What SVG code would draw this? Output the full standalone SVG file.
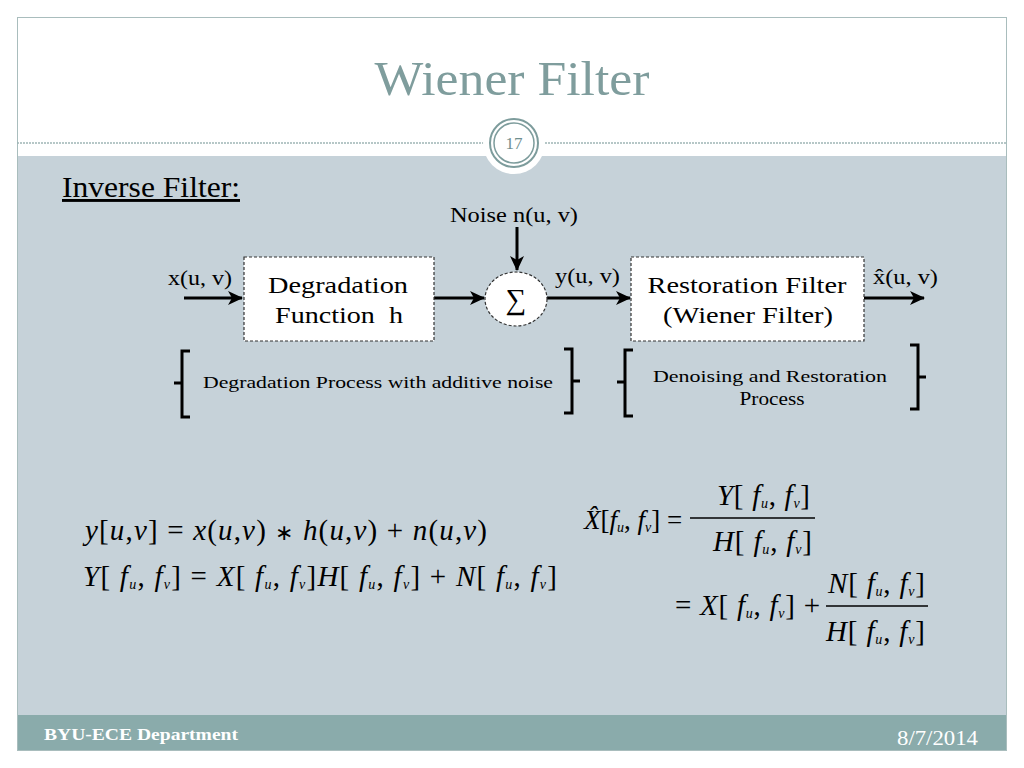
<svg xmlns="http://www.w3.org/2000/svg" width="1024" height="768" viewBox="0 0 1024 768">
<defs>
<style>
text{font-family:"Liberation Serif","Times New Roman",serif;fill:#000}
.lbl{font-size:23px}
.eq{font-size:29px}
.i{font-style:italic}
.s{font-size:14px;font-style:italic}
.box{fill:#fff;stroke:#333;stroke-width:1.2;stroke-dasharray:3 2}
.wire{stroke:#000;stroke-width:3;fill:none}
.br{stroke:#000;stroke-width:3;fill:none}
.frac{stroke:#000;stroke-width:1.4}
</style>
<marker id="ah" markerUnits="userSpaceOnUse" markerWidth="16" markerHeight="14" refX="14" refY="7" orient="auto">
<path d="M0,0 L15,7 L0,14 L4,7 z" fill="#000"/>
</marker>
</defs>
<rect x="0" y="0" width="1024" height="768" fill="#fff"/>
<g id="slide">
<rect x="17" y="156" width="990" height="559" fill="#c6d2d9"/>
<rect x="17" y="715" width="990" height="36" fill="#8aabab"/>
<rect x="17.5" y="17.5" width="989" height="733" fill="none" stroke="#a9bdbd" stroke-width="1"/>
<line x1="17" y1="143" x2="1007" y2="143" stroke="#9fb5b5" stroke-width="1.5" stroke-dasharray="2 1"/>
<circle cx="514" cy="143" r="31" fill="#fff"/>
<circle cx="514" cy="143" r="24" fill="#fff" stroke="#7d9c9c" stroke-width="2"/>
<circle cx="514" cy="143" r="20" fill="none" stroke="#7d9c9c" stroke-width="1.5"/>
<text x="514" y="149" text-anchor="middle" style="font-size:17px;fill:#6f8f8f">17</text>
<text x="512" y="95" text-anchor="middle" textLength="275" lengthAdjust="spacingAndGlyphs" style="font-size:48px;fill:#7f9d9d">Wiener Filter</text>
<text x="62" y="197" textLength="178" lengthAdjust="spacingAndGlyphs" style="font-size:29px;text-decoration:underline">Inverse Filter:</text>
<text x="44" y="740" textLength="194" lengthAdjust="spacingAndGlyphs" style="font-size:16px;font-weight:bold;fill:#fff">BYU-ECE Department</text>
<text x="978" y="745" text-anchor="end" textLength="81" lengthAdjust="spacingAndGlyphs" style="font-size:20px;fill:#fff">8/7/2014</text>
</g>
<g id="connectors">
<line class="wire" x1="184" y1="298" x2="242" y2="298" marker-end="url(#ah)"/>
<line class="wire" x1="434" y1="298" x2="484" y2="298" marker-end="url(#ah)"/>
<line class="wire" x1="517" y1="227" x2="517" y2="270" marker-end="url(#ah)"/>
<line class="wire" x1="547" y1="298" x2="630" y2="298" marker-end="url(#ah)"/>
<line class="wire" x1="864" y1="298" x2="924" y2="298" marker-end="url(#ah)"/>
</g>
<g id="degradation">
<rect class="box" x="244" y="257" width="190" height="84"/>
<text class="lbl" x="338" y="293" text-anchor="middle" textLength="140" lengthAdjust="spacingAndGlyphs">Degradation</text>
<text class="lbl" x="339" y="323" text-anchor="middle" textLength="128" lengthAdjust="spacingAndGlyphs">Function&#160; h</text>
</g>
<g id="sum">
<ellipse cx="516" cy="299" rx="31" ry="27" fill="#fff" stroke="#333" stroke-width="1.2" stroke-dasharray="3 2"/>
<text x="516" y="309" text-anchor="middle" style="font-size:29px">∑</text>
</g>
<g id="restoration">
<rect class="box" x="631" y="257" width="233" height="84"/>
<text class="lbl" x="747" y="293" text-anchor="middle" textLength="199" lengthAdjust="spacingAndGlyphs">Restoration Filter</text>
<text class="lbl" x="748" y="323" text-anchor="middle" textLength="170" lengthAdjust="spacingAndGlyphs">(Wiener Filter)</text>
</g>
<g id="labels">
<text class="lbl" x="168" y="285" textLength="64" lengthAdjust="spacingAndGlyphs" style="font-size:20px">x(u, v)</text>
<text class="lbl" x="450" y="222" textLength="128" lengthAdjust="spacingAndGlyphs" style="font-size:21px">Noise n(u, v)</text>
<text class="lbl" x="555" y="283" textLength="65" lengthAdjust="spacingAndGlyphs" style="font-size:20px">y(u, v)</text>
<text class="lbl" x="873" y="284" textLength="65" lengthAdjust="spacingAndGlyphs" style="font-size:20px">x̂(u, v)</text>
</g>
<g id="brace-degradation">
<path class="br" d="M190,351 H182 V417 H190 M182,383 H174"/>
<path class="br" d="M564,349 H572 V413 H564 M572,381 H580"/>
<text x="378" y="388" text-anchor="middle" textLength="350" lengthAdjust="spacingAndGlyphs" style="font-size:17px">Degradation Process with additive noise</text>
</g>
<g id="brace-restoration">
<path class="br" d="M633,350 H625 V416 H633 M625,382 H617"/>
<path class="br" d="M910,345 H918 V409 H910 M918,377 H926"/>
<text x="770" y="382" text-anchor="middle" textLength="234" lengthAdjust="spacingAndGlyphs" style="font-size:17px">Denoising and Restoration</text>
<text x="772" y="405" text-anchor="middle" textLength="65" lengthAdjust="spacingAndGlyphs" style="font-size:18px">Process</text>
</g>
<g id="equations">
<text class="eq" x="85" y="540" textLength="402" lengthAdjust="spacing"><tspan class="i">y</tspan>[<tspan class="i">u</tspan>,<tspan class="i">v</tspan>] = <tspan class="i">x</tspan>(<tspan class="i">u</tspan>,<tspan class="i">v</tspan>) <tspan style="font-size:22px">∗</tspan> <tspan class="i">h</tspan>(<tspan class="i">u</tspan>,<tspan class="i">v</tspan>) + <tspan class="i">n</tspan>(<tspan class="i">u</tspan>,<tspan class="i">v</tspan>)</text>
<text class="eq" x="83" y="586" textLength="474" lengthAdjust="spacing"><tspan class="i">Y</tspan>[ <tspan class="i">f</tspan><tspan class="s" dy="3">u</tspan><tspan dy="-3">, </tspan><tspan class="i">f</tspan><tspan class="s" dy="3">v</tspan><tspan dy="-3">] = </tspan><tspan class="i">X</tspan>[ <tspan class="i">f</tspan><tspan class="s" dy="3">u</tspan><tspan dy="-3">, </tspan><tspan class="i">f</tspan><tspan class="s" dy="3">v</tspan><tspan dy="-3">]</tspan><tspan class="i">H</tspan>[ <tspan class="i">f</tspan><tspan class="s" dy="3">u</tspan><tspan dy="-3">, </tspan><tspan class="i">f</tspan><tspan class="s" dy="3">v</tspan><tspan dy="-3">] + </tspan><tspan class="i">N</tspan>[ <tspan class="i">f</tspan><tspan class="s" dy="3">u</tspan><tspan dy="-3">, </tspan><tspan class="i">f</tspan><tspan class="s" dy="3">v</tspan><tspan dy="-3">]</tspan></text>
<text class="eq" x="584" y="529" style="font-size:27px"><tspan class="i">X̂</tspan>[<tspan class="i">f</tspan><tspan class="s" dy="3">u</tspan><tspan dy="-3">, </tspan><tspan class="i">f</tspan><tspan class="s" dy="3">v</tspan><tspan dy="-3">] =</tspan></text>
<text class="eq" x="717" y="505" textLength="93" lengthAdjust="spacing"><tspan class="i">Y</tspan>[ <tspan class="i">f</tspan><tspan class="s" dy="3">u</tspan><tspan dy="-3">, </tspan><tspan class="i">f</tspan><tspan class="s" dy="3">v</tspan><tspan dy="-3">]</tspan></text>
<line class="frac" x1="690" y1="518" x2="815" y2="518"/>
<text class="eq" x="713" y="551" textLength="99" lengthAdjust="spacing"><tspan class="i">H</tspan>[ <tspan class="i">f</tspan><tspan class="s" dy="3">u</tspan><tspan dy="-3">, </tspan><tspan class="i">f</tspan><tspan class="s" dy="3">v</tspan><tspan dy="-3">]</tspan></text>
<text class="eq" x="675" y="615" textLength="145" lengthAdjust="spacing">= <tspan class="i">X</tspan>[ <tspan class="i">f</tspan><tspan class="s" dy="3">u</tspan><tspan dy="-3">, </tspan><tspan class="i">f</tspan><tspan class="s" dy="3">v</tspan><tspan dy="-3">] +</tspan></text>
<text class="eq" x="828" y="593" textLength="97" lengthAdjust="spacing"><tspan class="i">N</tspan>[ <tspan class="i">f</tspan><tspan class="s" dy="3">u</tspan><tspan dy="-3">, </tspan><tspan class="i">f</tspan><tspan class="s" dy="3">v</tspan><tspan dy="-3">]</tspan></text>
<line class="frac" x1="826" y1="606" x2="928" y2="606"/>
<text class="eq" x="826" y="641" textLength="99" lengthAdjust="spacing"><tspan class="i">H</tspan>[ <tspan class="i">f</tspan><tspan class="s" dy="3">u</tspan><tspan dy="-3">, </tspan><tspan class="i">f</tspan><tspan class="s" dy="3">v</tspan><tspan dy="-3">]</tspan></text>
</g>
</svg>
